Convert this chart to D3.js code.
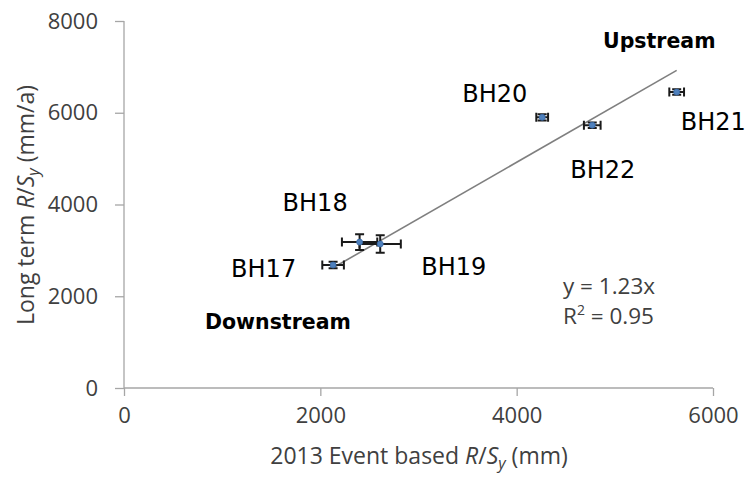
<!DOCTYPE html>
<html>
<head>
<meta charset="utf-8">
<script src="https://cdn.jsdelivr.net/npm/d3@7/dist/d3.min.js"></script>
<style>
  html, body { margin: 0; padding: 0; background: #fff; }
  svg { display: block; }
</style>
</head>
<body>
<svg id="chart" width="750" height="484"></svg>
<script>
// Boreholes, event-based R/Sy (x, mm) against long-term R/Sy (y, mm/a)
const boreholes = ["BH17", "BH18", "BH19", "BH20", "BH22", "BH21"];
const eventRSy  = [2130, 2400, 2610, 4260, 4770, 5630];
const longRSy   = [2680, 3180, 3140, 5900, 5730, 6450];
const eventErr  = [110, 180, 210, 60, 85, 75];
const longErr   = [70, 170, 190, 70, 60, 60];

const xTicks = [0, 2000, 4000, 6000];
const yTicks = [0, 2000, 4000, 6000, 8000];
const slope = 1.23;
const rSquared = 0.95;

// label offsets (px) from each point: [dx, dy] of the text start / baseline
const labelOffsets = {
  BH17: [-102, 12], BH18: [-77, -31], BH19: [41, 31],
  BH20: [-80, -15], BH22: [-22, 53], BH21: [4, 38]
};

const svg = d3.select("#chart");
const x = d3.scaleLinear().domain([0, 6000]).range([124, 713]);
const y = d3.scaleLinear().domain([0, 8000]).range([388, 21]);

const axisColor = "#a6a6a6";
const tickFont = "'Open Sans', sans-serif";

// x axis
const gx = svg.append("g").attr("transform", `translate(0,${y(0)})`)
  .call(d3.axisBottom(x).tickValues(xTicks).tickFormat(d3.format("d")).tickSize(8).tickPadding(11));
// y axis
const gy = svg.append("g").attr("transform", `translate(${x(0)},0)`)
  .call(d3.axisLeft(y).tickValues(yTicks).tickFormat(d3.format("d")).tickSize(9).tickPadding(17));

[gx, gy].forEach(g => {
  g.select(".domain").attr("stroke", axisColor).attr("stroke-width", 1.3);
  g.selectAll(".tick line").attr("stroke", axisColor).attr("stroke-width", 1.3);
  g.selectAll(".tick text").attr("fill", "#404040")
    .style("font-family", tickFont).style("font-size", "22px");
});
gy.select(".domain").attr("d", `M0,${y(8000)}V${y(0)}`);
gx.select(".domain").attr("d", `M${x(0)},0H${x(6000)}`);

// axis titles
const xTitle = svg.append("text")
  .attr("x", 419).attr("y", 464)
  .attr("text-anchor", "middle")
  .attr("fill", "#404040")
  .style("font-family", tickFont).style("font-size", "23px");
xTitle.append("tspan").text("2013 Event based ");
xTitle.append("tspan").attr("font-style", "italic").text("R");
xTitle.append("tspan").text("/");
xTitle.append("tspan").attr("font-style", "italic").text("S");
xTitle.append("tspan").attr("font-style", "italic").attr("font-size", "16px").attr("dy", 5).text("y");
xTitle.append("tspan").attr("dy", -5).text(" (mm)");

const yTitle = svg.append("text")
  .attr("transform", "translate(34,205) rotate(-90)")
  .attr("text-anchor", "middle")
  .attr("fill", "#404040")
  .style("font-family", tickFont).style("font-size", "23px");
yTitle.append("tspan").text("Long term ");
yTitle.append("tspan").attr("font-style", "italic").text("R");
yTitle.append("tspan").text("/");
yTitle.append("tspan").attr("font-style", "italic").text("S");
yTitle.append("tspan").attr("font-style", "italic").attr("font-size", "16px").attr("dy", 5).text("y");
yTitle.append("tspan").attr("dy", -5).text(" (mm/a)");

const data = boreholes.map((name, i) => ({
  name, x: eventRSy[i], y: longRSy[i], ex: eventErr[i], ey: longErr[i]
}));

// linear trend through the origin, over the range of the data
const xMin = d3.min(eventRSy), xMax = d3.max(eventRSy);
svg.append("line")
  .attr("x1", x(xMin)).attr("y1", y(slope * xMin))
  .attr("x2", x(xMax)).attr("y2", y(slope * xMax))
  .attr("stroke", "#7f7f7f").attr("stroke-width", 1.6);

// error bars
const cap = 4.5;
const eb = svg.append("g").attr("stroke", "#1a1a1a").attr("stroke-width", 2).attr("fill", "none");
data.forEach(d => {
  const cx = x(d.x), cy = y(d.y);
  const xl = x(d.x - d.ex), xr = x(d.x + d.ex);
  const yt = y(d.y + d.ey), yb = y(d.y - d.ey);
  eb.append("path").attr("d",
    `M${xl},${cy}H${xr}M${xl},${cy - cap}V${cy + cap}M${xr},${cy - cap}V${cy + cap}` +
    `M${cx},${yt}V${yb}M${cx - cap},${yt}H${cx + cap}M${cx - cap},${yb}H${cx + cap}`);
});

// markers
svg.append("g").selectAll("circle").data(data).join("circle")
  .attr("cx", d => x(d.x)).attr("cy", d => y(d.y)).attr("r", 3)
  .attr("fill", "#4f81bd").attr("stroke", "#3a6aa8").attr("stroke-width", 0.8);

// borehole labels
const annFont = "'DejaVu Sans', sans-serif";
svg.append("g").selectAll("text").data(data).join("text")
  .attr("x", d => x(d.x) + labelOffsets[d.name][0])
  .attr("y", d => y(d.y) + labelOffsets[d.name][1])
  .attr("fill", "#000")
  .style("font-family", annFont).style("font-size", "24px")
  .text(d => d.name);

// reach labels
svg.append("text").attr("x", 603).attr("y", 48)
  .style("font-family", annFont).style("font-size", "20.5px").style("font-weight", "bold")
  .text("Upstream");
svg.append("text").attr("x", 205).attr("y", 329)
  .style("font-family", annFont).style("font-size", "20.5px").style("font-weight", "bold")
  .text("Downstream");

// trend equation
const eq = svg.append("g").attr("fill", "#404040")
  .style("font-family", tickFont).style("font-size", "22.5px");
eq.append("text").attr("x", 563).attr("y", 294).text(`y = ${slope}x`);
const r2 = eq.append("text").attr("x", 563).attr("y", 324);
r2.append("tspan").text("R");
r2.append("tspan").attr("font-size", "14px").attr("dy", -9).text("2");
r2.append("tspan").attr("dy", 9).text(` = ${rSquared}`);
</script>
</body>
</html>
